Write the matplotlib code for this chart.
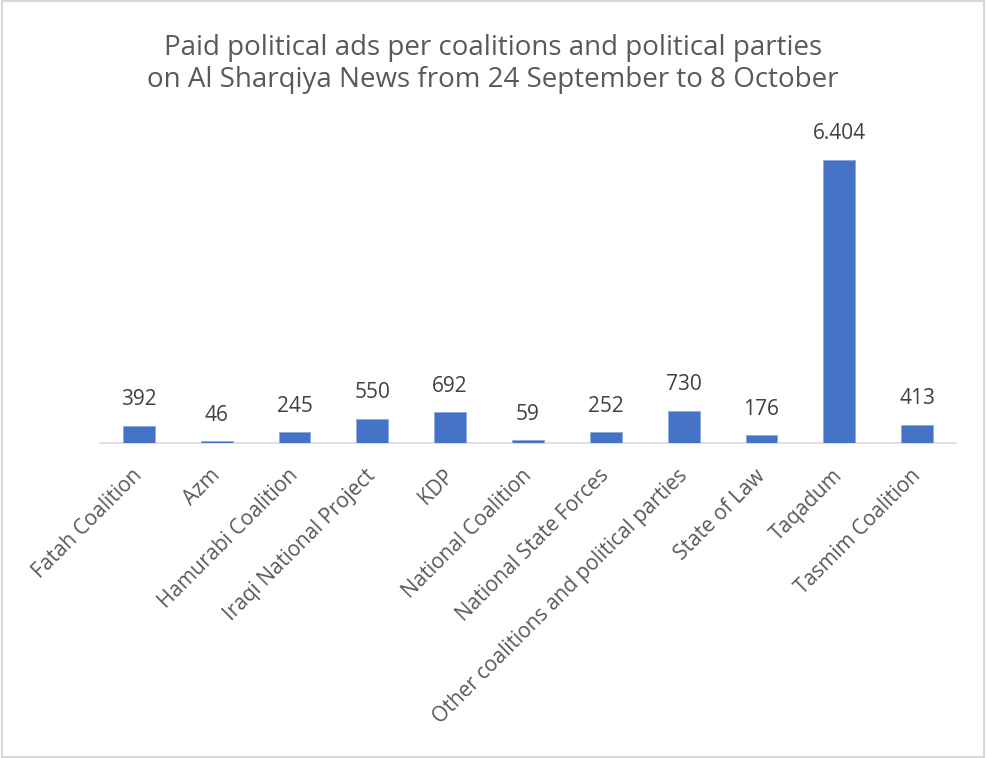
import matplotlib
matplotlib.use("Agg")
import matplotlib.pyplot as plt
from matplotlib.patches import Rectangle
from matplotlib.transforms import ScaledTranslation

categories = ["Fatah Coalition", "Azm", "Hamurabi Coalition", "Iraqi National Project",
              "KDP", "National Coalition", "National State Forces",
              "Other coalitions and political parties", "State of Law", "Taqadum",
              "Tasmim Coalition"]
values = [392, 46, 245, 550, 692, 59, 252, 730, 176, 6404, 413]
labels = ["392", "46", "245", "550", "692", "59", "252", "730", "176", "6.404", "413"]
title = "Paid political ads per coalitions and political parties\non Al Sharqiya News from 24 September to 8 October"

plt.rcParams['font.family'] = ['Open Sans', 'DejaVu Sans']

W, H = 986, 758
fig = plt.figure(figsize=(W/100, H/100), dpi=100)
# axes: x 100..956, y 111..443 (pixels from top)
ax = fig.add_axes([100/W, 1-443/H, 856/W, (443-111)/H])
x = list(range(len(categories)))
ax.bar(x, values, width=0.41, color="#4472C4", edgecolor="#8FAADC", linewidth=0.6, zorder=3)
ax.set_xlim(-0.5, len(categories)-0.5)
ax.set_ylim(0, 7500)
for s in ["top", "right", "left"]:
    ax.spines[s].set_visible(False)
ax.spines["bottom"].set_color("#D9D9D9")
ax.spines["bottom"].set_linewidth(1.2)
ax.set_yticks([])
ax.set_xticks(x)
ax.set_xticklabels(categories, rotation=45, ha="right", rotation_mode="anchor",
                   fontsize=15, color="#595959")
ax.tick_params(axis="x", length=0, pad=16)
offset = ScaledTranslation(-0.07, 0, fig.dpi_scale_trans)
for lbl in ax.get_xticklabels():
    lbl.set_transform(lbl.get_transform() + offset)
for xi, v, lab in zip(x, values, labels):
    ax.annotate(lab, (xi, v), xytext=(0, 11), textcoords="offset points",
                ha="center", va="bottom", fontsize=15, color="#404040")

fig.text(0.5, 1-64/H, title, ha="center", va="center", fontsize=20,
         color="#595959", linespacing=1.2)

fig.patches.append(Rectangle((2/W, 1/H), (984-2)/W, (757-1)/H, transform=fig.transFigure,
                             fill=False, edgecolor="#D9D9D9", linewidth=1.5))
fig.savefig("out.png", dpi=100, facecolor="white")
